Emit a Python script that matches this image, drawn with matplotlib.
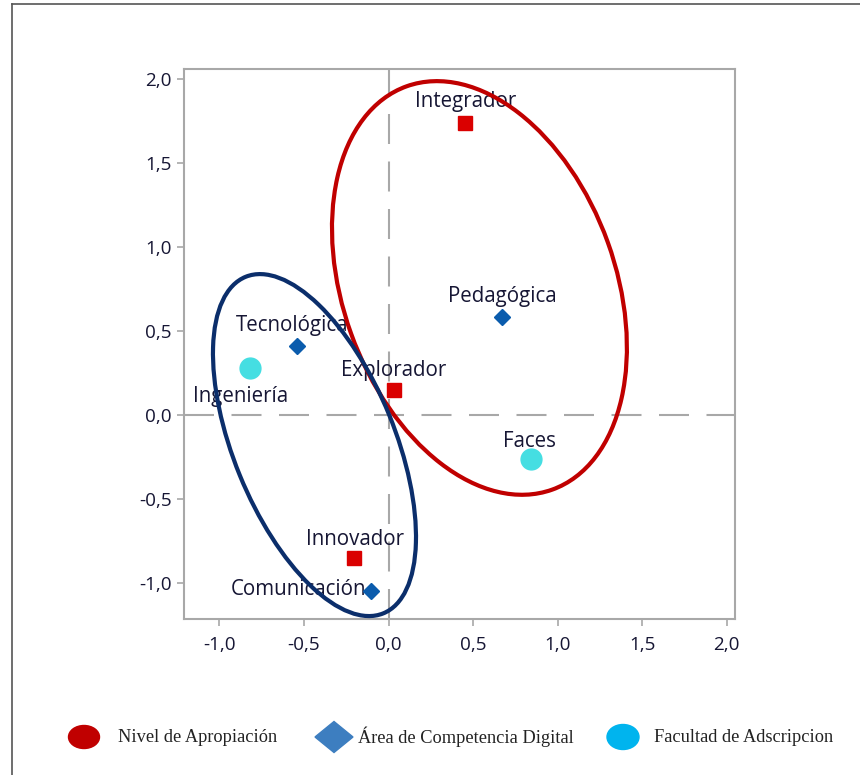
import matplotlib
matplotlib.use("Agg")
import matplotlib.pyplot as plt
from matplotlib.patches import Ellipse, Polygon
from matplotlib.lines import Line2D
from matplotlib.ticker import FuncFormatter, MultipleLocator

# ---- data ----
nivel_labels = ["Integrador", "Explorador", "Innovador"]
nivel_x = [0.453, 0.033, -0.202]
nivel_y = [1.740, 0.149, -0.853]

area_labels = ["Pedagógica", "Tecnológica", "Comunicación"]
area_x = [0.672, -0.540, -0.105]
area_y = [0.583, 0.408, -1.048]

facultad_labels = ["Faces", "Ingeniería"]
facultad_x = [0.843, -0.819]
facultad_y = [-0.262, 0.280]

legend_labels = ["Nivel de Apropiación", "Área de Competencia Digital", "Facultad de Adscripcion"]

# ellipse groups (center x, center y, width, height, angle)
red_ellipse = (0.538, 0.756, 2.55, 1.613, 109.7)
blue_ellipse = (-0.438, -0.179, 2.162, 0.954, 112.1)

# ---- styles ----
RED = "#DA0000"
RED_ELL = "#C00000"
NAVY = "#0B2E6B"
DIAM = "#0B5CAD"
CYAN = "#45DEE2"
TXT = "#161634"
GRID = "#A8A8A8"

plt.rcParams["lines.scale_dashes"] = False

fig = plt.figure(figsize=(8.6, 7.75), dpi=100)
ax = fig.add_axes([184 / 860, 1 - 619 / 775, (735 - 184) / 860, (619 - 69) / 775])

ax.set_xlim(-1.210, 2.050)
ax.set_ylim(-1.214, 2.059)

# reference dashed lines
ax.axvline(0, color=GRID, lw=1.5, dashes=(21.6, 12.6), zorder=1)
ax.axhline(0, color=GRID, lw=1.5, dashes=(21.6, 12.6), zorder=1)

# ellipses
for (cx, cy, w, h, ang), col in [(red_ellipse, RED_ELL), (blue_ellipse, NAVY)]:
    ax.add_patch(Ellipse((cx, cy), w, h, angle=ang, fill=False,
                         edgecolor=col, lw=3.0, zorder=4))

# markers
ax.plot(nivel_x, nivel_y, ls="none", marker="s", ms=9.4, color=RED, zorder=5)
ax.plot(area_x, area_y, ls="none", marker="D", ms=8.3, color=DIAM, zorder=5)
ax.plot(facultad_x, facultad_y, ls="none", marker="o", ms=15, color=CYAN, zorder=5)

# labels (offsets in points, alignment)
label_fs = 14.8
lab_font = "Open Sans"
nivel_off = [((0.7, 11.5), "center"), ((0, 10.0), "center"), ((0.7, 9.4), "center")]
area_off = [((0, 10.8), "center"), ((-3.6, 10.8), "center"), ((-3.2, -2.9), "right")]
fac_off = [((-1.4, 8.6), "center"), ((-6.5, -24.5), "center")]

for labels, xs, ys, offs in [(nivel_labels, nivel_x, nivel_y, nivel_off),
                             (area_labels, area_x, area_y, area_off),
                             (facultad_labels, facultad_x, facultad_y, fac_off)]:
    for lab, x, y, (off, ha) in zip(labels, xs, ys, offs):
        ax.annotate(lab, (x, y), xytext=off, textcoords="offset points",
                    ha=ha, va="baseline", fontsize=label_fs, family=lab_font,
                    color=TXT, zorder=2)

# axes styling
ax.xaxis.set_major_locator(MultipleLocator(0.5))
ax.yaxis.set_major_locator(MultipleLocator(0.5))
fmt = FuncFormatter(lambda v, p: f"{v:.1f}".replace(".", ","))
ax.xaxis.set_major_formatter(fmt)
ax.yaxis.set_major_formatter(fmt)
ax.tick_params(axis="both", direction="out", length=5, width=1.2, color=GRID,
               labelsize=13.6, labelcolor=TXT)
ax.tick_params(axis="x", pad=7)
ax.tick_params(axis="y", pad=4)
for lbl in ax.get_xticklabels() + ax.get_yticklabels():
    lbl.set_family("Open Sans")
for sp in ax.spines.values():
    sp.set_color(GRID)
    sp.set_linewidth(1.5)

# outer frame (left and top edges visible)
fig.add_artist(Line2D([12 / 860, 12 / 860], [0, 1 - 4 / 775], transform=fig.transFigure,
                      color="#555555", lw=1.2))
fig.add_artist(Line2D([12 / 860, 1], [1 - 4 / 775, 1 - 4 / 775], transform=fig.transFigure,
                      color="#555555", lw=1.2))

# legend (manual)
ly = 1 - 737 / 775
fig.add_artist(Ellipse((84 / 860, ly), 31 / 860, 23 / 775, transform=fig.transFigure,
                       color="#C00000"))
dx, dy = 19 / 860, 15.5 / 775
cx = 334 / 860
fig.add_artist(Polygon([(cx - dx, ly), (cx, ly + dy), (cx + dx, ly), (cx, ly - dy)],
                       closed=True, transform=fig.transFigure, color="#3D7EC0"))
fig.add_artist(Ellipse((623 / 860, ly), 32 / 860, 25 / 775, transform=fig.transFigure,
                       color="#00B4EE"))
for lab, tx in zip(legend_labels, [118, 358, 654]):
    fig.text(tx / 860, ly, lab, ha="left", va="center", fontsize=13.2,
             family="Liberation Serif", color="#222222")

fig.savefig("out.png", dpi=100)
